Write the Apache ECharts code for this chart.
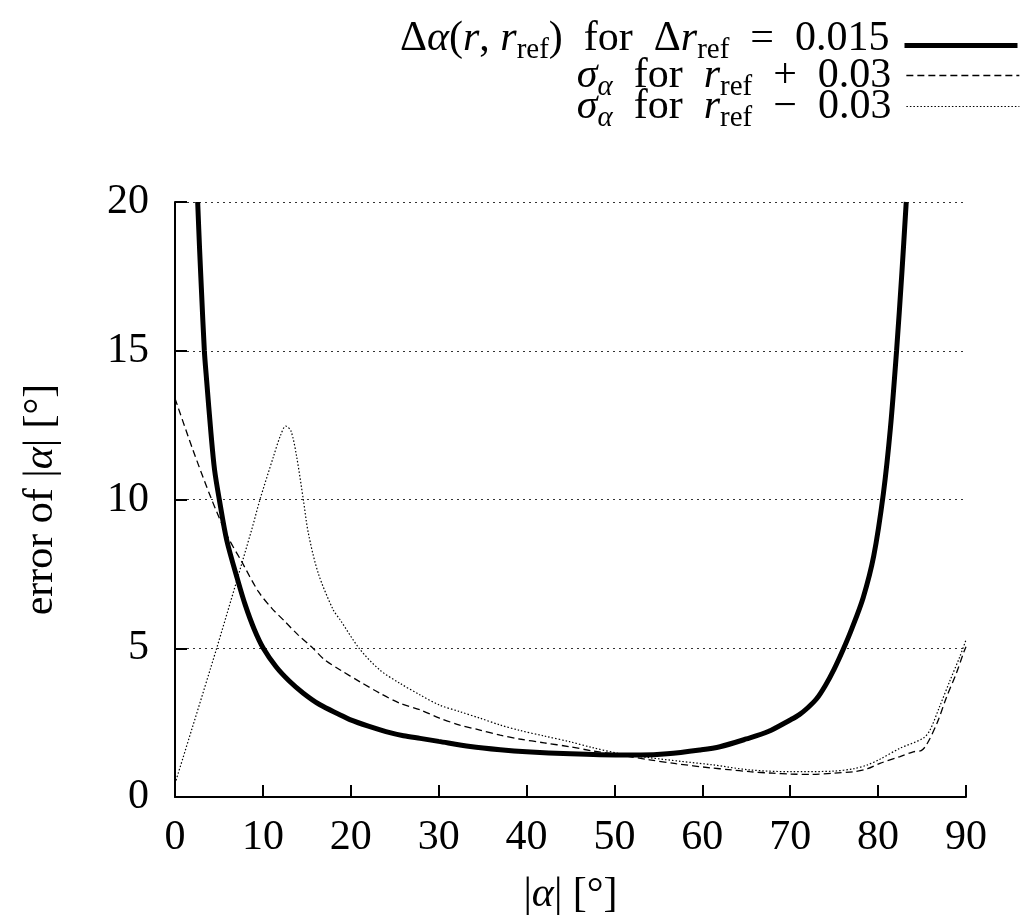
<!DOCTYPE html>
<html>
<head>
<meta charset="utf-8">
<script src="https://cdn.jsdelivr.net/npm/echarts@6/dist/echarts.min.js"></script>
<style>
html,body{margin:0;padding:0;background:#fff;}
#chart{width:1024px;height:921px;}
</style>
</head>
<body>
<div id="chart"></div>
<script>
// Δα(r, r_ref) for Δr_ref = 0.015 (thick solid)
const solidX = [2.58, 2.8, 3.0, 3.34, 3.6, 4.1, 4.5, 5.04, 5.88, 7.13, 8.0, 9.0, 10.05, 11.5, 13, 14.6, 16.5, 18.8, 19.9, 22, 24, 26, 27.9, 30, 33.6, 37, 40, 45, 50.6, 53, 56, 59.7, 62, 65, 67.5, 70, 71, 72, 73, 74, 75, 76, 77, 78.3, 79.5, 80.6, 81.4, 82.1, 82.7, 83.2];
const solidY = [20, 18.4, 17.1, 15.0, 14.0, 12.2, 11.0, 10.0, 8.64, 7.3, 6.45, 5.65, 5.0, 4.38, 3.9, 3.49, 3.1, 2.76, 2.6, 2.38, 2.2, 2.06, 1.97, 1.87, 1.7, 1.59, 1.52, 1.45, 1.41, 1.41, 1.45, 1.58, 1.69, 1.95, 2.2, 2.59, 2.76, 3.0, 3.3, 3.75, 4.3, 4.94, 5.65, 6.7, 8.1, 10.2, 12.4, 15.0, 17.6, 20];

// σ_α for r_ref + 0.03 (dashed)
const plusX = [0, 2, 4.17, 6, 7.59, 9.5, 11, 12.5, 14, 15.7, 17, 18.8, 21, 23.3, 25.6, 27.9, 30.1, 32.4, 34.7, 37, 39.2, 42, 44.9, 47.5, 50.6, 54, 57, 60.9, 63, 65.4, 68, 70, 72.5, 74.9, 77.2, 78.8, 80.2, 82.5, 84, 84.9, 85.5, 86.7, 87.8, 88.9, 89.7, 90];
const plusY = [13.4, 11.7, 10.0, 8.75, 7.91, 6.9, 6.35, 5.9, 5.45, 5.0, 4.62, 4.27, 3.88, 3.49, 3.15, 2.93, 2.65, 2.42, 2.25, 2.08, 1.95, 1.82, 1.69, 1.55, 1.41, 1.25, 1.12, 0.98, 0.92, 0.85, 0.8, 0.77, 0.76, 0.8, 0.85, 0.95, 1.13, 1.36, 1.52, 1.56, 1.75, 2.48, 3.37, 4.16, 4.83, 5.05];

// σ_α for r_ref − 0.03 (dotted)
const minusX = [0, 4.74, 8.72, 9.67, 11.2, 12.0, 12.6, 13.2, 13.84, 14.6, 15.17, 16.3, 18.0, 18.8, 21.0, 23.3, 25.6, 27.9, 30.1, 32.4, 34.7, 37.0, 39.2, 42, 44.9, 47.5, 50.6, 54, 57.5, 61.2, 65.4, 70, 74.9, 77.2, 78.8, 80.2, 82.5, 85.1, 85.9, 87.0, 88.2, 89.3, 90];
const minusY = [0.45, 5.0, 8.98, 10.0, 11.44, 12.15, 12.47, 12.3, 11.44, 10.0, 8.87, 7.52, 6.29, 5.95, 4.98, 4.27, 3.82, 3.43, 3.09, 2.87, 2.65, 2.42, 2.24, 2.05, 1.86, 1.66, 1.46, 1.32, 1.2, 1.08, 0.91, 0.85, 0.87, 0.95, 1.08, 1.27, 1.64, 1.97, 2.25, 3.04, 3.93, 4.72, 5.28];

const xTicks = [0, 10, 20, 30, 40, 50, 60, 70, 80, 90];
const yTicks = [0, 5, 10, 15, 20];

const legendText = {
  delta: '{n|Δ}{i|α}{n|(}{i|r}{n|, }{i|r}{s|ref}{n|)  for  Δ}{i|r}{s|ref}{n|  =  0.015}',
  plus: '{i|σ}{si|α}{n|  for  }{i|r}{s|ref}{n|  +  0.03}',
  minus: '{i|σ}{si|α}{n|  for  }{i|r}{s|ref}{n|  −  0.03}'
};

const zip = (xs, ys) => xs.map((x, i) => [x, ys[i]]);
const FONT = 'Liberation Serif';
const FS = 42;

const rich = {
  n: {fontFamily: FONT, fontSize: FS, color: '#000', lineHeight: 44},
  i: {fontFamily: FONT, fontSize: FS, fontStyle: 'italic', color: '#000', lineHeight: 44},
  s: {fontFamily: FONT, fontSize: 29, color: '#000', lineHeight: 28, padding: [24, 0, 0, 0]},
  si: {fontFamily: FONT, fontSize: 29, fontStyle: 'italic', color: '#000', lineHeight: 28, padding: [24, 0, 0, 0]}
};

function mkLegend(name, top, lineStyle, padBottom) {
  return {
    data: [name], right: 4, top: top, orient: 'vertical', align: 'right',
    itemWidth: 113, itemHeight: 10, padding: 0,
    formatter: n => legendText[n],
    textStyle: {rich: rich, padding: [0, 10, padBottom, 0]},
    itemStyle: {opacity: 0},
    lineStyle: lineStyle,
    selectedMode: false
  };
}

const chart = echarts.init(document.getElementById('chart'), null, {renderer: 'canvas'});
chart.setOption({
  animation: false,
  backgroundColor: '#fff',
  grid: {left: 175, right: 58, top: 202, bottom: 124, containLabel: false},
  legend: [
    mkLegend('delta', 12, {color: '#000', width: 5, type: 'solid'}, 14),
    mkLegend('plus', 49, {color: '#000', width: 1.3, type: [7, 4]}, 0),
    mkLegend('minus', 80, {color: '#000', width: 1.2, type: [1.5, 2]}, 0)
  ],
  xAxis: {
    type: 'value', min: xTicks[0], max: xTicks[xTicks.length - 1], interval: 10,
    name: '{n||}{i|α}{n|| [°]}', nameLocation: 'middle', nameGap: 76,
    nameTextStyle: {rich: rich},
    axisLine: {lineStyle: {color: '#000', width: 2}},
    axisTick: {inside: true, length: 12, lineStyle: {color: '#000', width: 2}},
    axisLabel: {fontFamily: FONT, fontSize: FS, color: '#000', margin: 20},
    splitLine: {show: false}
  },
  yAxis: {
    type: 'value', min: yTicks[0], max: yTicks[yTicks.length - 1], interval: 5,
    name: '{n|error of |}{i|α}{n|| [°]}', nameLocation: 'middle', nameGap: 112,
    nameTextStyle: {rich: rich},
    axisLine: {show: true, lineStyle: {color: '#000', width: 2}},
    axisTick: {show: true, inside: true, length: 12, lineStyle: {color: '#000', width: 2}},
    axisLabel: {fontFamily: FONT, fontSize: FS, color: '#000', margin: 26},
    splitLine: {show: true, lineStyle: {color: '#333', width: 1.2, type: [2, 4]}}
  },
  series: [
    {name: 'delta', type: 'line', data: zip(solidX, solidY), smooth: 0.3, symbol: 'none', clip: true,
     itemStyle: {color: '#000'}, lineStyle: {color: '#000', width: 5}, z: 3},
    {name: 'plus', type: 'line', data: zip(plusX, plusY), smooth: 0.3, symbol: 'none', clip: true,
     itemStyle: {color: '#000'}, lineStyle: {color: '#000', width: 1.3, type: [7, 4]}, z: 2},
    {name: 'minus', type: 'line', data: zip(minusX, minusY), smooth: 0.3, symbol: 'none', clip: true,
     itemStyle: {color: '#000'}, lineStyle: {color: '#000', width: 1.2, type: [1.5, 2]}, z: 2}
  ]
});
</script>
</body>
</html>
